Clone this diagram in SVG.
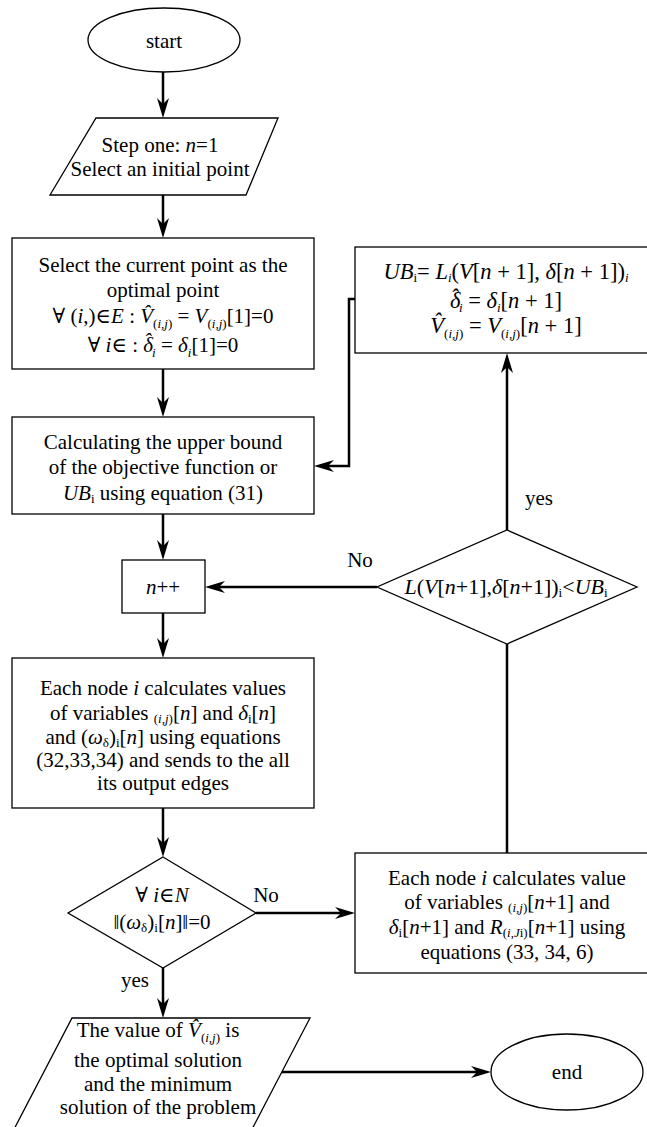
<svg xmlns="http://www.w3.org/2000/svg" width="647" height="1127" viewBox="0 0 647 1127">
<style>
.shape{fill:#fff;stroke:#000;stroke-width:1.3}
.edge{fill:none;stroke:#000;stroke-width:2.5;marker-end:url(#ah)}
.edge.plain{marker-end:none}
.t{font-family:"Liberation Serif","Times New Roman",Times,"DejaVu Serif",serif;font-size:21px;fill:#000;text-anchor:middle}
.m{font-size:22.5px}
.it{font-style:italic}
.s{font-size:13px}
</style>
<defs>
<marker id="ah" viewBox="0 0 20 12" refX="12" refY="6" markerWidth="20" markerHeight="12" markerUnits="userSpaceOnUse" orient="auto">
<path d="M0,0 L20,6 L0,12 L6,6 Z" fill="#000"/>
</marker>
</defs>
<rect width="647" height="1127" fill="#fff"/>

<g id="connectors">
<path class="edge" d="M163,72 V110"/>
<path class="edge" d="M163,195 V230"/>
<path class="edge" d="M163,369 V409"/>
<path class="edge" d="M163,514 V552"/>
<path class="edge" d="M163,613 V650"/>
<path class="edge" d="M163,808 V849"/>
<path class="edge" d="M163,968 V1010"/>
<path class="edge" d="M256,913 H347"/>
<path class="edge plain" d="M507,853 V644"/>
<path class="edge" d="M507,530 V361"/>
<path class="edge" d="M377,587 H213"/>
<path class="edge" d="M355,299 H349 V466 H322"/>
<path class="edge" d="M280,1072 H483"/>
<text class="t" x="360" y="567">No</text>
<text class="t" x="539" y="505">yes</text>
<text class="t" x="266" y="902">No</text>
<text class="t" x="135" y="987">yes</text>
</g>

<g id="start">
<ellipse class="shape" cx="164" cy="40" rx="76" ry="32"/>
<text class="t" x="164" y="48">start</text>
</g>

<g id="step-one">
<polygon class="shape" points="96,118 278,118 246,195 50,195"/>
<text class="t" x="160" y="152">Step one: <tspan class="it">n</tspan>=1</text>
<text class="t" x="160" y="176">Select an initial point</text>
</g>

<g id="select-current">
<rect class="shape" x="12" y="238" width="302" height="131"/>
<text class="t" x="163" y="272">Select the current point as the</text>
<text class="t" x="163" y="297">optimal point</text>
<text class="t" x="163" y="323">∀ (<tspan class="it">i</tspan>,)∈<tspan class="it">E</tspan> : <tspan class="it">V̂</tspan><tspan class="s" dy="5">(<tspan class="it">i</tspan>,<tspan class="it">j</tspan>)</tspan><tspan dy="-5"> = </tspan><tspan class="it">V</tspan><tspan class="s" dy="5">(<tspan class="it">i</tspan>,<tspan class="it">j</tspan>)</tspan><tspan dy="-5">[1]=0</tspan></text>
<text class="t" x="163" y="352">∀ <tspan class="it">i</tspan>∈ : <tspan class="it" dx="0 -9" dy="0 -4">δˆ</tspan><tspan class="s it" dx="1" dy="9">i</tspan><tspan dy="-5"> = </tspan><tspan class="it">δ</tspan><tspan class="s it" dy="5">i</tspan><tspan dy="-5">[1]=0</tspan></text>
</g>

<g id="upper-bound">
<rect class="shape" x="12" y="417" width="302" height="97"/>
<text class="t" x="163" y="449">Calculating the upper bound</text>
<text class="t" x="163" y="474">of the objective function or</text>
<text class="t" x="163" y="500"><tspan class="it">UB</tspan><tspan class="s" dy="3">i</tspan><tspan dy="-3"> using equation (31)</tspan></text>
</g>

<g id="increment">
<rect class="shape" x="122" y="560" width="83" height="53"/>
<text class="t" x="163" y="594"><tspan class="it">n</tspan>++</text>
</g>

<g id="compute-values">
<rect class="shape" x="12" y="658" width="302" height="150"/>
<text class="t" x="163" y="695">Each node <tspan class="it">i</tspan> calculates values</text>
<text class="t" x="163" y="720">of variables <tspan class="s" dy="3">(<tspan class="it">i</tspan>,<tspan class="it">j</tspan>)</tspan><tspan dy="-3">[</tspan><tspan class="it">n</tspan>] and <tspan class="it">δ</tspan><tspan class="s" dy="3">i</tspan><tspan dy="-3">[</tspan><tspan class="it">n</tspan>]</text>
<text class="t" x="163" y="744">and (<tspan class="it">ω</tspan><tspan class="s" dy="3">δ</tspan><tspan dy="-3">)</tspan><tspan class="s" dy="3">i</tspan><tspan dy="-3">[</tspan><tspan class="it">n</tspan>] using equations</text>
<text class="t" x="163" y="767">(32,33,34) and sends to the all</text>
<text class="t" x="163" y="790">its output edges</text>
</g>

<g id="converged">
<polygon class="shape" points="163,857 256,913 163,968 68,913"/>
<text class="t" x="162" y="902">∀ <tspan class="it">i</tspan>∈<tspan class="it">N</tspan></text>
<text class="t" x="162" y="929">‖(<tspan class="it">ω</tspan><tspan class="s" dy="3">δ</tspan><tspan dy="-3">)</tspan><tspan class="s" dy="3">i</tspan><tspan dy="-3">[</tspan><tspan class="it">n</tspan>]‖=0</text>
</g>

<g id="compute-next">
<rect class="shape" x="355" y="853" width="300" height="120"/>
<text class="t" x="507" y="885">Each node <tspan class="it">i</tspan> calculates value</text>
<text class="t" x="507" y="909">of variables <tspan class="s" dy="3">(<tspan class="it">i</tspan>,<tspan class="it">j</tspan>)</tspan><tspan dy="-3">[</tspan><tspan class="it">n</tspan>+1] and</text>
<text class="t" x="507" y="934"><tspan class="it">δ</tspan><tspan class="s" dy="3">i</tspan><tspan dy="-3">[</tspan><tspan class="it">n</tspan>+1] and <tspan class="it">R</tspan><tspan class="s" dy="3">(<tspan class="it">i</tspan>,<tspan class="it">J</tspan>i)</tspan><tspan dy="-3">[</tspan><tspan class="it">n</tspan>+1] using</text>
<text class="t" x="507" y="959">equations (33, 34, 6)</text>
</g>

<g id="compare">
<polygon class="shape" points="507,530 637,587 507,644 377,587"/>
<text class="t" x="506" y="594" style="font-size:22px"><tspan class="it">L</tspan>(<tspan class="it">V</tspan>[<tspan class="it">n</tspan>+1],<tspan class="it">δ</tspan>[<tspan class="it">n</tspan>+1])<tspan class="s" dy="3">i</tspan><tspan dy="-3">&lt;</tspan><tspan class="it">UB</tspan><tspan class="s" dy="3">i</tspan></text>
</g>

<g id="update-bound">
<rect class="shape" x="355" y="247" width="300" height="106"/>
<text class="t m" x="506" y="279"><tspan class="it">UB</tspan><tspan class="s" dy="3">i</tspan><tspan dy="-3">= </tspan><tspan class="it">L</tspan><tspan class="s it" dy="3">i</tspan><tspan dy="-3">(</tspan><tspan class="it">V</tspan>[<tspan class="it">n</tspan> + 1], <tspan class="it">δ</tspan>[<tspan class="it">n</tspan> + 1])<tspan class="s it" dy="3">i</tspan></text>
<text class="t m" x="506" y="308"><tspan class="it" dx="0 -10" dy="0 -3">δˆ</tspan><tspan class="s it" dx="1" dy="7">i</tspan><tspan dy="-4"> = </tspan><tspan class="it">δ</tspan><tspan class="s it" dy="4">i</tspan><tspan dy="-4">[</tspan><tspan class="it">n</tspan> + 1]</text>
<text class="t m" x="506" y="333"><tspan class="it">V̂</tspan><tspan class="s" dy="5">(<tspan class="it">i</tspan>,<tspan class="it">j</tspan>)</tspan><tspan dy="-5"> = </tspan><tspan class="it">V</tspan><tspan class="s" dy="5">(<tspan class="it">i</tspan>,<tspan class="it">j</tspan>)</tspan><tspan dy="-5">[</tspan><tspan class="it">n</tspan> + 1]</text>
</g>

<g id="result">
<polygon class="shape" points="72,1018 310,1018 249,1135 11,1135"/>
<text class="t" x="158" y="1037">The value of <tspan class="it">V̂</tspan><tspan class="s" dy="5">(<tspan class="it">i</tspan>,<tspan class="it">j</tspan>)</tspan><tspan dy="-5"> is</tspan></text>
<text class="t" x="158" y="1067">the optimal solution</text>
<text class="t" x="158" y="1091">and the minimum</text>
<text class="t" x="158" y="1114">solution of the problem</text>
</g>

<g id="end">
<ellipse class="shape" cx="567" cy="1072" rx="76" ry="38"/>
<text class="t" x="567" y="1079">end</text>
</g>
</svg>
